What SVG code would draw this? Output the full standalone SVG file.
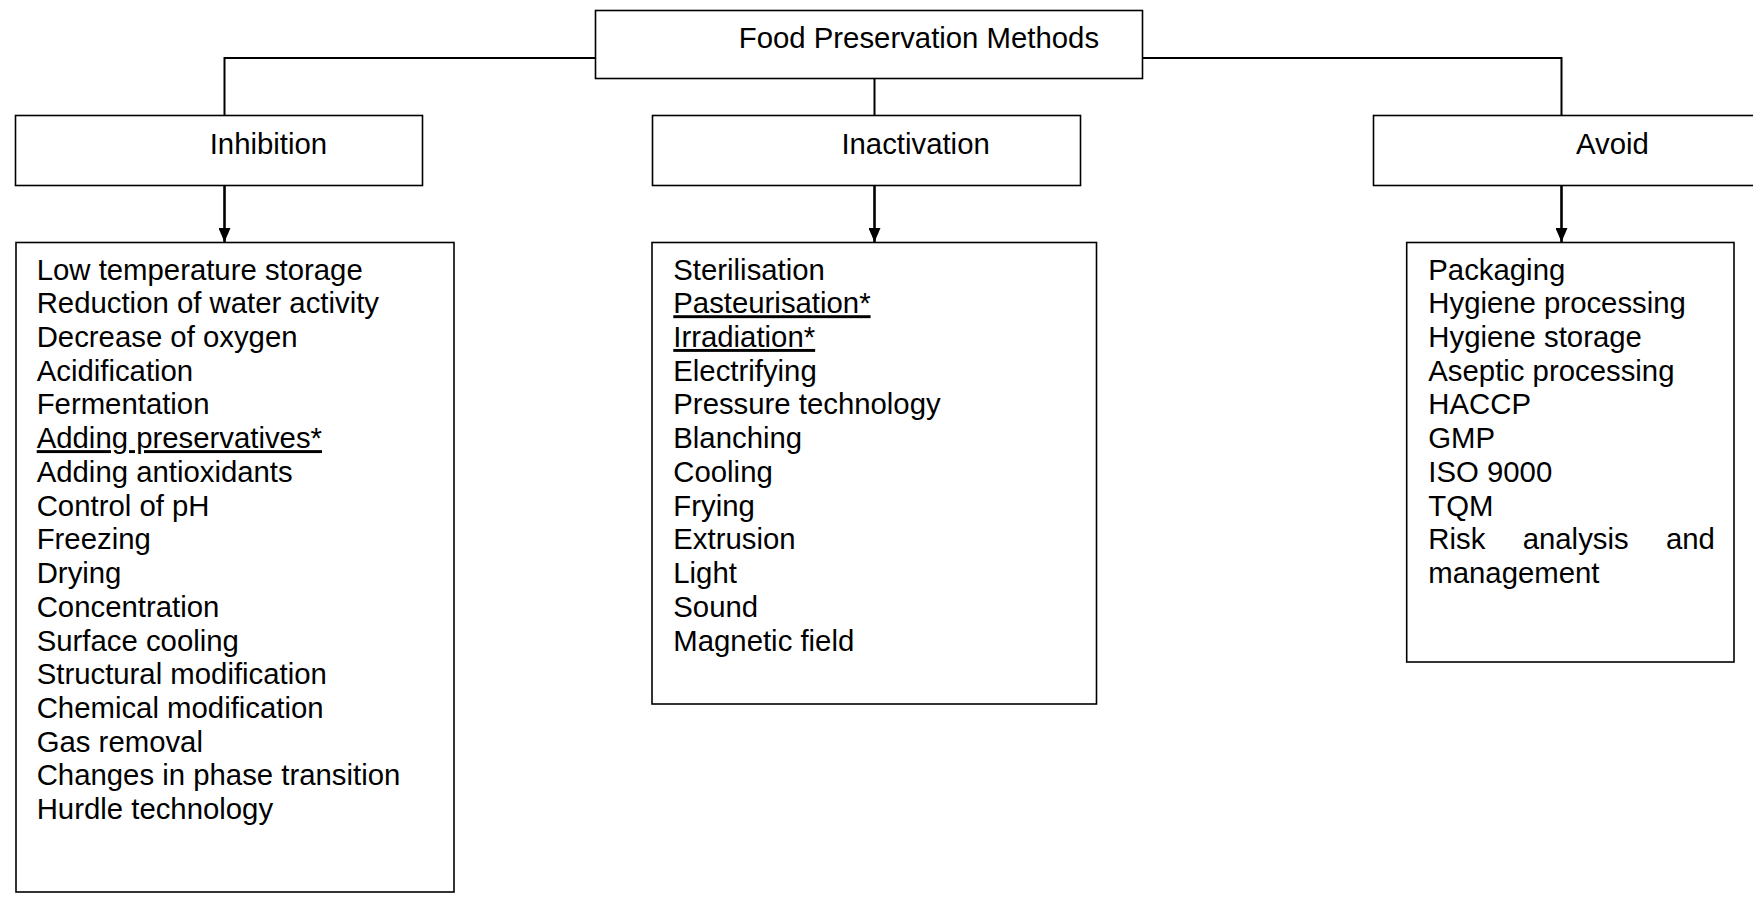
<svg xmlns="http://www.w3.org/2000/svg" width="1753" height="898" viewBox="0 0 1753 898">
<defs>
<style>
text{font-family:"Liberation Sans",Arial,sans-serif;font-size:29.33px;fill:#000}
.box{fill:#fff;stroke:#000;stroke-width:1.6}
.con{fill:none;stroke:#000;stroke-width:2}
.arr{fill:none;stroke:#000;stroke-width:2.6}
.u{text-decoration:underline}
</style>
<marker id="ah" markerWidth="14" markerHeight="12" refX="14" refY="6" orient="auto" markerUnits="userSpaceOnUse">
<path d="M0,0 L14,6 L0,12 Z" fill="#000"/>
</marker>
</defs>
<rect width="1753" height="898" fill="#fff"/>
<g id="connectors">
<path class="con" d="M595.5,58 H224.5 V115.5"/>
<path class="con" d="M1142.5,58 H1561.5 V115.5"/>
<path class="con" d="M874.5,78.5 V115.5"/>
<path class="arr" d="M224.5,180 V242" marker-end="url(#ah)"/>
<path class="arr" d="M874.5,180 V242" marker-end="url(#ah)"/>
<path class="arr" d="M1561.5,180 V242" marker-end="url(#ah)"/>
</g>
<g id="root">
<rect class="box" x="595.5" y="10.5" width="547" height="68"/>
<text x="738.8" y="48.3">Food Preservation Methods</text>
</g>
<g id="inhibition">
<rect class="box" x="15.5" y="115.5" width="407" height="70"/>
<text x="209.7" y="154">Inhibition</text>
</g>
<g id="inactivation">
<rect class="box" x="652.5" y="115.5" width="428" height="70"/>
<text x="841.4" y="154">Inactivation</text>
</g>
<g id="avoid">
<rect class="box" x="1373.5" y="115.5" width="420" height="70"/>
<text x="1576" y="154">Avoid</text>
</g>
<g id="inhibition-list">
<rect class="box" x="16" y="242.5" width="438" height="649.5"/>
<text x="36.7" y="279.5">
<tspan x="36.7" dy="0">Low temperature storage</tspan>
<tspan x="36.7" dy="33.73">Reduction of water activity</tspan>
<tspan x="36.7" dy="33.73">Decrease of oxygen</tspan>
<tspan x="36.7" dy="33.73">Acidification</tspan>
<tspan x="36.7" dy="33.73">Fermentation</tspan>
<tspan x="36.7" dy="33.73" class="u">Adding preservatives*</tspan>
<tspan x="36.7" dy="33.73">Adding antioxidants</tspan>
<tspan x="36.7" dy="33.73">Control of pH</tspan>
<tspan x="36.7" dy="33.73">Freezing</tspan>
<tspan x="36.7" dy="33.73">Drying</tspan>
<tspan x="36.7" dy="33.73">Concentration</tspan>
<tspan x="36.7" dy="33.73">Surface cooling</tspan>
<tspan x="36.7" dy="33.73">Structural modification</tspan>
<tspan x="36.7" dy="33.73">Chemical modification</tspan>
<tspan x="36.7" dy="33.73">Gas removal</tspan>
<tspan x="36.7" dy="33.73">Changes in phase transition</tspan>
<tspan x="36.7" dy="33.73">Hurdle technology</tspan>
</text>
</g>
<g id="inactivation-list">
<rect class="box" x="652" y="242.5" width="444.5" height="461.5"/>
<text x="673.3" y="279.5">
<tspan x="673.3" dy="0">Sterilisation</tspan>
<tspan x="673.3" dy="33.73" class="u">Pasteurisation*</tspan>
<tspan x="673.3" dy="33.73" class="u">Irradiation*</tspan>
<tspan x="673.3" dy="33.73">Electrifying</tspan>
<tspan x="673.3" dy="33.73">Pressure technology</tspan>
<tspan x="673.3" dy="33.73">Blanching</tspan>
<tspan x="673.3" dy="33.73">Cooling</tspan>
<tspan x="673.3" dy="33.73">Frying</tspan>
<tspan x="673.3" dy="33.73">Extrusion</tspan>
<tspan x="673.3" dy="33.73">Light</tspan>
<tspan x="673.3" dy="33.73">Sound</tspan>
<tspan x="673.3" dy="33.73">Magnetic field</tspan>
</text>
</g>
<g id="avoid-list">
<rect class="box" x="1406.7" y="242.5" width="327.3" height="419.5"/>
<text x="1428.3" y="279.5">
<tspan x="1428.3" dy="0">Packaging</tspan>
<tspan x="1428.3" dy="33.73">Hygiene processing</tspan>
<tspan x="1428.3" dy="33.73">Hygiene storage</tspan>
<tspan x="1428.3" dy="33.73">Aseptic processing</tspan>
<tspan x="1428.3" dy="33.73">HACCP</tspan>
<tspan x="1428.3" dy="33.73">GMP</tspan>
<tspan x="1428.3" dy="33.73">ISO 9000</tspan>
<tspan x="1428.3" dy="33.73">TQM</tspan>
<tspan x="1428.3" dy="33.73">Risk</tspan><tspan x="1522.7">analysis</tspan><tspan x="1666">and</tspan>
<tspan x="1428.3" dy="33.73">management</tspan>
</text>
</g>
</svg>
